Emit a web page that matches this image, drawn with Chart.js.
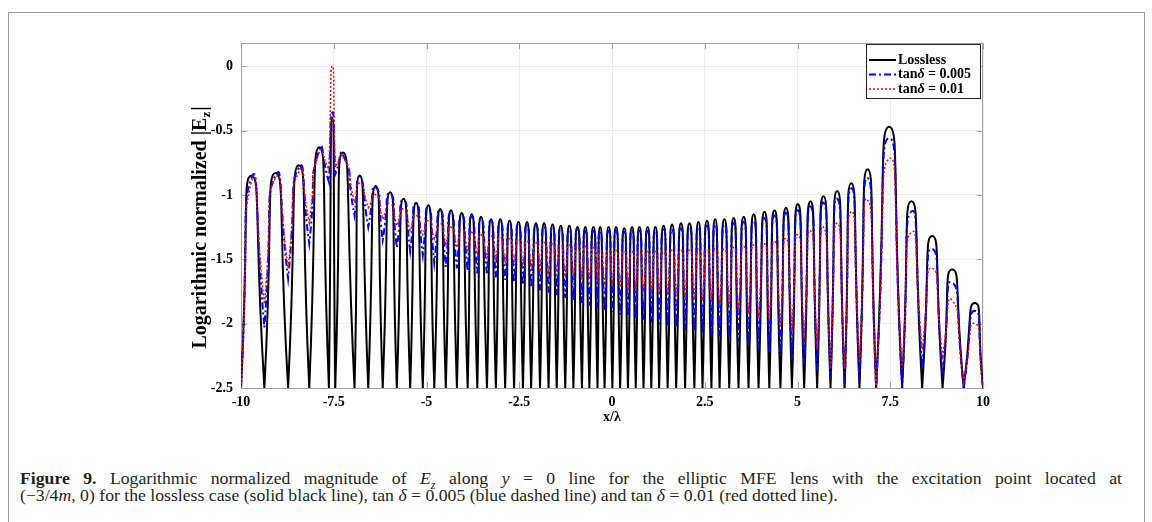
<!DOCTYPE html>
<html>
<head>
<meta charset="utf-8">
<script src="https://cdn.jsdelivr.net/npm/chart.js@4.4.1/dist/chart.umd.min.js"></script>
<style>
    body { margin: 0; background: #fff; width: 1152px; height: 522px; overflow: hidden; position: relative; font-family: "Liberation Serif", serif; }
    #frame { position: absolute; left: 8px; top: 12px; width: 1135px; height: 540px; border: 1px solid #9a9a9a; }
    #wrap { position: absolute; left: 0; top: 0; width: 1152px; height: 440px; }
    .cap { position: absolute; left: 20px; font-size: 17.7px; line-height: 17px; color: #231f20; white-space: nowrap; }
    #cap1 { top: 470px; width: 1102px; text-align: justify; text-align-last: justify; white-space: normal; }
    #cap2 { top: 487px; }
</style>
</head>
<body>
<div id="frame"></div>
<div id="wrap"><canvas id="myChart"></canvas></div>
<div class="cap" id="cap1"><b>Figure 9.</b> Logarithmic normalized magnitude of <i>E<sub style="font-size:12px;line-height:0">z</sub></i> along <i>y</i> = 0 line for the elliptic MFE lens with the excitation point located at</div>
<div class="cap" id="cap2">(&minus;3/4<i>m</i>, 0) for the lossless case (solid black line), tan <i>&delta;</i> = 0.005 (blue dashed line) and tan <i>&delta;</i> = 0.01 (red dotted line).</div>

<script>
// lobe maxima and nulls (x in wavelengths)
const peakX = [
    -9.72, -9.07, -8.44, -7.89, -7.54, -7.25, -6.80,
    -6.37, -5.98, -5.62, -5.28, -4.95, -4.63, -4.34, -4.05, -3.78,
    -3.53, -3.26, -3.01, -2.76, -2.52, -2.29, -2.05, -1.83, -1.60, -1.38, -1.15, -0.93, -0.72, -0.50,
    -0.32, -0.09, 0.11, 0.33, 0.54, 0.74, 0.96, 1.17, 1.39, 1.62, 1.86, 2.09, 2.33, 2.56, 2.78,
    3.03, 3.28, 3.55, 3.82, 4.11, 4.38, 4.69, 5.01, 5.35, 5.70, 6.07,
    6.45, 6.89, 7.47, 8.07, 8.63, 9.17, 9.78
];
const nullX = [
    -9.37, -8.73, -8.16, -7.63, -7.46, -6.94,
    -6.57, -6.18, -5.80, -5.44, -5.10, -4.79, -4.48, -4.18, -3.89, -3.63,
    -3.37, -3.13, -2.88, -2.64, -2.40, -2.18, -1.94, -1.71, -1.49, -1.26, -1.04, -0.81, -0.61, -0.39,
    -0.20, 0.01, 0.22, 0.43, 0.64, 0.85, 1.06, 1.27, 1.50, 1.73, 1.97, 2.22, 2.44, 2.68, 2.90,
    3.16, 3.41, 3.68, 3.95, 4.24, 4.54, 4.85, 5.18, 5.53, 5.89,
    6.27, 6.67, 7.12, 7.82, 8.36, 8.91, 9.48
];

const losslessPeak = [
    -0.85, -0.83, -0.77, -0.63, -0.40, -0.67, -0.85,
    -0.93, -0.98, -1.03, -1.06, -1.08, -1.11, -1.12, -1.14, -1.15,
    -1.17, -1.19, -1.19, -1.20, -1.21, -1.21, -1.22, -1.22, -1.23, -1.24, -1.24, -1.25, -1.25, -1.25,
    -1.25, -1.25, -1.25, -1.26, -1.25, -1.25, -1.25, -1.25, -1.24, -1.23, -1.22, -1.22, -1.21, -1.20, -1.19,
    -1.19, -1.18, -1.17, -1.15, -1.13, -1.12, -1.10, -1.07, -1.05, -1.01, -0.97,
    -0.91, -0.80, -0.47, -1.05, -1.32, -1.58, -1.84
];
// lossless nulls all drop past the bottom of the axis
const losslessNull = [
    -2.5, -2.5, -2.5, -2.5, -2.5, -2.5,
    -2.5, -2.5, -2.5, -2.5, -2.5, -2.5, -2.5, -2.5, -2.5, -2.5,
    -2.5, -2.5, -2.5, -2.5, -2.5, -2.5, -2.5, -2.5, -2.5, -2.5, -2.5, -2.5, -2.5, -2.5,
    -2.5, -2.5, -2.5, -2.5, -2.5, -2.5, -2.5, -2.5, -2.5, -2.5, -2.5, -2.5, -2.5, -2.5, -2.5,
    -2.5, -2.5, -2.5, -2.5, -2.5, -2.5, -2.5, -2.5, -2.5, -2.5,
    -2.5, -2.5, -2.5, -2.5, -2.5, -2.5, -2.5
];

const bluePeak = [
    -0.87, -0.85, -0.79, -0.65, -0.36, -0.69, -0.87,
    -0.94, -0.99, -1.04, -1.07, -1.10, -1.12, -1.14, -1.16, -1.17,
    -1.19, -1.20, -1.21, -1.22, -1.23, -1.23, -1.24, -1.25, -1.25, -1.26, -1.27, -1.27, -1.28, -1.28,
    -1.28, -1.28, -1.28, -1.29, -1.28, -1.28, -1.28, -1.28, -1.27, -1.27, -1.26, -1.25, -1.25, -1.24, -1.23,
    -1.23, -1.22, -1.21, -1.20, -1.18, -1.16, -1.14, -1.12, -1.09, -1.06, -1.03,
    -0.95, -0.87, -0.56, -1.13, -1.42, -1.68, -1.90
];
const blueNull = [
    -2.03, -1.65, -1.38, -0.90, -0.84, -1.16,
    -1.25, -1.35, -1.41, -1.44, -1.47, -1.53, -1.56, -1.57, -1.59, -1.61,
    -1.62, -1.64, -1.66, -1.68, -1.70, -1.72, -1.74, -1.76, -1.78, -1.80, -1.82, -1.84, -1.86, -1.88,
    -1.90, -1.91, -1.93, -1.94, -1.96, -1.97, -1.99, -2.00, -2.02, -2.03, -2.05, -2.06, -2.07, -2.09, -2.10,
    -2.12, -2.14, -2.17, -2.19, -2.22, -2.25, -2.28, -2.32, -2.36, -2.42,
    -2.50, -2.45, -2.50, -2.50, -2.35, -2.40, -2.50
];

const redPeak = [
    -0.90, -0.87, -0.82, -0.67, 0.00, -0.70, -0.91,
    -1.00, -1.07, -1.11, -1.16, -1.20, -1.22, -1.25, -1.27, -1.29,
    -1.31, -1.32, -1.33, -1.34, -1.35, -1.36, -1.37, -1.37, -1.38, -1.39, -1.39, -1.40, -1.40, -1.41,
    -1.42, -1.43, -1.43, -1.44, -1.44, -1.44, -1.44, -1.44, -1.44, -1.43, -1.43, -1.43, -1.42, -1.42, -1.42,
    -1.42, -1.41, -1.40, -1.39, -1.38, -1.36, -1.34, -1.31, -1.28, -1.25, -1.22,
    -1.13, -1.04, -0.72, -1.29, -1.57, -1.82, -2.00
];
const redNull = [
    -1.85, -1.57, -1.22, -0.80, -0.78, -1.06,
    -1.10, -1.19, -1.24, -1.28, -1.31, -1.34, -1.38, -1.41, -1.43, -1.46,
    -1.49, -1.50, -1.52, -1.53, -1.55, -1.56, -1.58, -1.59, -1.60, -1.62, -1.63, -1.65, -1.66, -1.68,
    -1.70, -1.71, -1.72, -1.73, -1.74, -1.75, -1.76, -1.77, -1.78, -1.79, -1.80, -1.81, -1.82, -1.83, -1.85,
    -1.87, -1.89, -1.92, -1.95, -1.98, -2.02, -2.06, -2.12, -2.20, -2.35,
    -2.35, -2.30, -2.50, -2.35, -2.20, -2.25, -2.45
];

const xEnds = [-10, 10];
const endValue = -2.5;
const xTicks = [-10, -7.5, -5, -2.5, 0, 2.5, 5, 7.5, 10];
const yTicks = [-2.5, -2, -1.5, -1, -0.5, 0];
const seriesLabels = ['Lossless', 'tan\u03b4 = 0.005', 'tan\u03b4 = 0.01'];

const serif = '"Liberation Serif", "Times New Roman", serif';

// walk the curve: start, peak, null, peak, ... , end
// each null goes in twice so the spline turns sharp there (a cusp, like the real nulls)
function buildSeries(peaks, nulls)
{
    let pts = [{x: xEnds[0], y: endValue}];
    for (let i = 0; i < peaks.length; i++)
    {
        pts.push({x: peakX[i], y: peaks[i]});
        if (i < nullX.length)
        {
            pts.push({x: nullX[i], y: nulls[i]});
            pts.push({x: nullX[i], y: nulls[i]});
        }
    }
    pts.push({x: xEnds[1], y: endValue});
    return pts;
}

// gray box round the plot with inward ticks, like matlab
const boxPlugin = {
    id: 'box',
    beforeDatasetsDraw(chart)
    {
        const a = chart.chartArea, c = chart.ctx;
        const xs = chart.scales.x, ys = chart.scales.y;
        c.save();
        c.strokeStyle = '#a0a0a0';
        c.lineWidth = 1;
        c.beginPath();
        xTicks.forEach(v => {
            const px = Math.round(xs.getPixelForValue(v)) + 0.5;
            c.moveTo(px, a.bottom); c.lineTo(px, a.bottom - 6);
            c.moveTo(px, a.top); c.lineTo(px, a.top + 6);
        });
        yTicks.forEach(v => {
            const py = Math.round(ys.getPixelForValue(v)) + 0.5;
            c.moveTo(a.left, py); c.lineTo(a.left + 6, py);
            c.moveTo(a.right, py); c.lineTo(a.right - 6, py);
        });
        c.stroke();
        c.strokeRect(a.left + 0.5, a.top + 0.5, a.right - a.left - 1, a.bottom - a.top);
        c.restore();
    }
};

// y title with subscript, legend box inside the plot
const textPlugin = {
    id: 'texts',
    afterDatasetsDraw(chart)
    {
        const a = chart.chartArea, c = chart.ctx;
        c.save();

        // y axis title
        c.translate(201, 228);
        c.rotate(-Math.PI / 2);
        c.fillStyle = '#000';
        c.textBaseline = 'middle';
        const main = 'Logarithmic normalized |E';
        c.font = 'bold 20px ' + serif;
        const wMain = c.measureText(main).width;
        c.font = 'bold 13px ' + serif;
        const wSub = c.measureText('z').width;
        c.font = 'bold 20px ' + serif;
        const wBar = c.measureText('|').width;
        let x0 = -(wMain + wSub + wBar) / 2;
        c.fillText(main, x0, 0);
        c.font = 'bold 13px ' + serif;
        c.fillText('z', x0 + wMain, 6);
        c.font = 'bold 20px ' + serif;
        c.fillText('|', x0 + wMain + wSub + 1, 0);
        c.restore();

        // legend
        c.save();
        const bx = 866, by = a.top + 1, bw = a.right - 3 - bx, bh = 54;
        c.fillStyle = '#fff';
        c.fillRect(bx, by, bw, bh);
        c.strokeStyle = '#222';
        c.lineWidth = 1;
        c.strokeRect(bx + 0.5, by + 0.5, bw, bh);
        const ds = chart.data.datasets;
        for (let i = 0; i < seriesLabels.length; i++)
        {
            const ly = by + 16 + i * 14.5;
            c.strokeStyle = ds[i].borderColor;
            c.lineWidth = ds[i].borderWidth;
            c.setLineDash(ds[i].borderDash || []);
            c.beginPath();
            c.moveTo(bx + 3, ly);
            c.lineTo(bx + 30, ly);
            c.stroke();
            c.setLineDash([]);
            c.fillStyle = '#000';
            c.textBaseline = 'middle';
            let tx = bx + 32;
            const parts = seriesLabels[i].split('\u03b4');
            c.font = 'bold 14px ' + serif;
            c.fillText(parts[0], tx, ly);
            tx += c.measureText(parts[0]).width;
            if (parts.length > 1)
            {
                c.font = 'italic bold 14px ' + serif;
                c.fillText('\u03b4', tx, ly);
                tx += c.measureText('\u03b4').width;
                c.font = 'bold 14px ' + serif;
                c.fillText(parts[1], tx, ly);
            }
        }
        c.restore();
    }
};

let myChart = document.getElementById('myChart').getContext('2d');

let chart_1 = new Chart(myChart,
{
    type: 'line',
    data:
    {
        datasets:
        [
            {
                label: seriesLabels[0],
                data: buildSeries(losslessPeak, losslessNull),
                borderColor: '#000000',
                borderWidth: 2,
                order: 3
            },
            {
                label: seriesLabels[1],
                data: buildSeries(bluePeak, blueNull),
                borderColor: '#0000ff',
                borderWidth: 2,
                borderDash: [7, 3, 2, 3],
                order: 2
            },
            {
                label: seriesLabels[2],
                data: buildSeries(redPeak, redNull),
                borderColor: '#ff0000',
                borderWidth: 1.5,
                borderDash: [2, 2],
                order: 1
            }
        ]
    },
    options:
    {
        responsive: true,
        maintainAspectRatio: false,
        animation: false,
        layout: { padding: { left: 0, top: 43, right: 169, bottom: 0 } },
        elements:
        {
            point: { radius: 0 },
            line: { tension: 0.8, fill: false }
        },
        plugins:
        {
            legend: { display: false },
            tooltip: { enabled: false }
        },
        scales:
        {
            x:
            {
                type: 'linear',
                min: -10,
                max: 10,
                afterBuildTicks: s => { s.ticks = xTicks.map(v => ({value: v})); },
                afterFit: s => { s.height = 52; },
                grid: { color: '#ececec', drawTicks: false },
                border: { color: '#a0a0a0' },
                ticks: { color: '#000', padding: 6, maxRotation: 0, font: { family: serif, size: 14, weight: 'bold' }, callback: v => String(v) },
                title: { display: true, text: 'x/\u03bb', color: '#000', font: { family: serif, size: 14, weight: 'bold' }, padding: { top: 0, bottom: 14 } }
            },
            y:
            {
                type: 'linear',
                min: -2.5,
                max: 0.18,
                afterBuildTicks: s => { s.ticks = yTicks.map(v => ({value: v})); },
                afterFit: s => { s.width = 241; },
                grid: { color: '#ececec', drawTicks: false },
                border: { color: '#a0a0a0' },
                ticks: { color: '#000', padding: 8, font: { family: serif, size: 14, weight: 'bold' }, callback: v => String(v) }
            }
        }
    },
    plugins: [boxPlugin, textPlugin]
});
</script>
</body>
</html>
